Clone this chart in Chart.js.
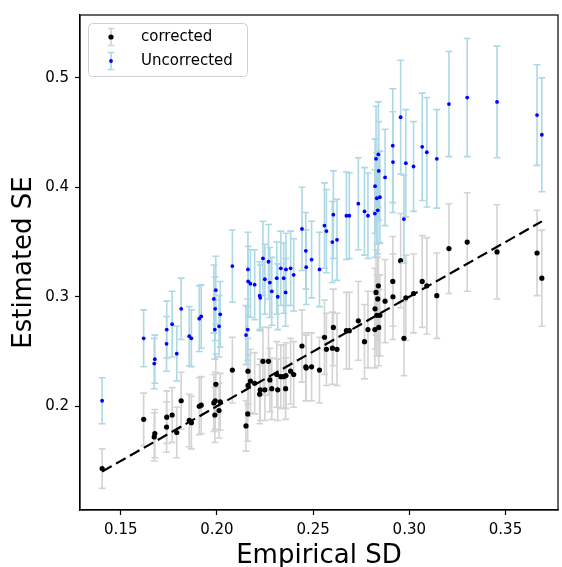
<!DOCTYPE html>
<html>
<head>
<meta charset="utf-8">
<script src="https://cdn.jsdelivr.net/npm/chart.js@4/dist/chart.umd.min.js"></script>
<style>
  html, body { margin: 0; padding: 0; background: #fff; }
  #wrap { width: 562px; height: 567px; position: relative; }
</style>
</head>
<body>
<div id="wrap"><canvas id="chart"></canvas></div>
<script>
// empirical SD of each estimate (x)
const empiricalSD = [
  0.1403, 0.1619, 0.1677, 0.1674, 0.1739, 0.1738, 0.1767, 0.1791, 0.1814, 0.1856,
  0.1867, 0.1908, 0.1918, 0.1984, 0.1994, 0.1991, 0.1989, 0.2017, 0.2011, 0.2080,
  0.2161, 0.2162, 0.2174, 0.2196, 0.2151, 0.2160, 0.2222, 0.2225, 0.2239, 0.2249,
  0.2268, 0.2275, 0.2285, 0.2311, 0.2316, 0.2332, 0.2347, 0.2359, 0.2357, 0.2383,
  0.2399, 0.2442, 0.2462, 0.2464, 0.2492, 0.2533, 0.2559, 0.2569, 0.2605, 0.2600,
  0.2624, 0.2673, 0.2688, 0.2735, 0.2767, 0.2785, 0.2821, 0.2822, 0.2827, 0.2831,
  0.2836, 0.2839, 0.2841, 0.2847, 0.2874, 0.2914, 0.2915, 0.2955, 0.2982, 0.2972,
  0.3022, 0.3067, 0.3091, 0.3143, 0.3206, 0.3301, 0.3456, 0.3664, 0.3689
];

// estimated SE, uncorrected
const uncorrectedSE = [
  0.205, 0.262, 0.243, 0.239, 0.270, 0.257, 0.275, 0.248, 0.289, 0.264,
  0.262, 0.280, 0.282, 0.298, 0.306, 0.289, 0.270, 0.284, 0.273, 0.328,
  0.325, 0.314, 0.312, 0.311, 0.265, 0.270, 0.301, 0.299, 0.335, 0.316,
  0.332, 0.313, 0.305, 0.317, 0.300, 0.326, 0.317, 0.325, 0.304, 0.326,
  0.320, 0.362, 0.342, 0.327, 0.334, 0.325, 0.365, 0.360, 0.375, 0.350,
  0.352, 0.374, 0.374, 0.385, 0.378, 0.374, 0.376, 0.401, 0.426, 0.390,
  0.379, 0.430, 0.415, 0.391, 0.409, 0.438, 0.423, 0.464, 0.422, 0.371,
  0.419, 0.437, 0.432, 0.426, 0.476, 0.482, 0.478, 0.466, 0.448
];
const uncorrectedErr = [
  0.021, 0.026, 0.022, 0.023, 0.026, 0.025, 0.030, 0.025, 0.028, 0.027,
  0.026, 0.030, 0.029, 0.031, 0.031, 0.029, 0.027, 0.030, 0.028, 0.033,
  0.034, 0.032, 0.031, 0.032, 0.027, 0.028, 0.031, 0.030, 0.034, 0.032,
  0.034, 0.032, 0.031, 0.033, 0.030, 0.034, 0.032, 0.033, 0.031, 0.034,
  0.033, 0.038, 0.035, 0.034, 0.035, 0.034, 0.039, 0.038, 0.040, 0.037,
  0.037, 0.040, 0.039, 0.042, 0.040, 0.039, 0.040, 0.043, 0.048, 0.042,
  0.040, 0.048, 0.045, 0.042, 0.044, 0.052, 0.046, 0.052, 0.049, 0.040,
  0.041, 0.049, 0.050, 0.045, 0.048, 0.054, 0.051, 0.046, 0.052
];

// estimated SE, corrected
const correctedSE = [
  0.143, 0.188, 0.175, 0.172, 0.190, 0.181, 0.192, 0.176, 0.205, 0.187,
  0.185, 0.200, 0.201, 0.203, 0.220, 0.205, 0.192, 0.204, 0.196, 0.233,
  0.232, 0.219, 0.223, 0.221, 0.182, 0.193, 0.211, 0.215, 0.241, 0.215,
  0.241, 0.224, 0.216, 0.229, 0.215, 0.227, 0.227, 0.228, 0.216, 0.232,
  0.229, 0.255, 0.236, 0.235, 0.236, 0.233, 0.263, 0.252, 0.272, 0.253,
  0.252, 0.269, 0.269, 0.278, 0.259, 0.270, 0.270, 0.289, 0.304, 0.283,
  0.298, 0.310, 0.272, 0.283, 0.296, 0.314, 0.300, 0.333, 0.299, 0.262,
  0.303, 0.314, 0.310, 0.301, 0.344, 0.350, 0.341, 0.340, 0.317
];
const correctedErr = [
  0.018, 0.024, 0.022, 0.022, 0.024, 0.023, 0.025, 0.023, 0.026, 0.024,
  0.024, 0.026, 0.026, 0.026, 0.028, 0.026, 0.025, 0.026, 0.025, 0.030,
  0.030, 0.028, 0.029, 0.028, 0.023, 0.025, 0.027, 0.028, 0.031, 0.028,
  0.031, 0.029, 0.028, 0.030, 0.028, 0.029, 0.029, 0.030, 0.028, 0.030,
  0.030, 0.033, 0.031, 0.030, 0.031, 0.030, 0.034, 0.033, 0.035, 0.033,
  0.033, 0.035, 0.035, 0.036, 0.034, 0.035, 0.035, 0.037, 0.039, 0.037,
  0.038, 0.040, 0.035, 0.037, 0.038, 0.041, 0.039, 0.043, 0.039, 0.034,
  0.036, 0.042, 0.044, 0.039, 0.041, 0.045, 0.043, 0.039, 0.044
];

const xTicks = [0.15, 0.20, 0.25, 0.30, 0.35];
const yTicks = [0.2, 0.3, 0.4, 0.5];
const seriesNames = ["corrected", "Uncorrected"];

const FONT = "'DejaVu Sans', sans-serif";
const BAR_GREY = "#d3d3d3";
const BAR_BLUE = "#add8e6";

const toPoints = (ys) => empiricalSD.map((x, i) => ({ x, y: ys[i] }));
const sdMin = Math.min(...empiricalSD);
const sdMax = Math.max(...empiricalSD);

// error bars, keyed by the dataset index they belong to
const errorBars = {
  0: { err: correctedErr, color: BAR_GREY },
  1: { err: uncorrectedErr, color: BAR_BLUE },
};

const errorBarPlugin = {
  id: "errorBars",
  beforeDatasetDraw(chart, args) {
    const bars = errorBars[args.index];
    if (!bars) return;
    const { ctx, chartArea, scales } = chart;
    const data = chart.data.datasets[args.index].data;
    ctx.save();
    ctx.beginPath();
    ctx.rect(chartArea.left, chartArea.top, chartArea.width, chartArea.height);
    ctx.clip();
    ctx.strokeStyle = bars.color;
    ctx.lineWidth = 1.6;
    data.forEach((p, i) => {
      const px = scales.x.getPixelForValue(p.x);
      const top = scales.y.getPixelForValue(p.y + bars.err[i]);
      const bot = scales.y.getPixelForValue(p.y - bars.err[i]);
      ctx.beginPath();
      ctx.moveTo(px, top);
      ctx.lineTo(px, bot);
      ctx.moveTo(px - 3.4, top);
      ctx.lineTo(px + 3.4, top);
      ctx.moveTo(px - 3.4, bot);
      ctx.lineTo(px + 3.4, bot);
      ctx.stroke();
    });
    ctx.restore();
  },
};

// top/right spines and the legend box
const framePlugin = {
  id: "frame",
  afterDraw(chart) {
    const { ctx, chartArea } = chart;
    ctx.save();
    ctx.strokeStyle = "#000";
    ctx.lineWidth = 1.2;
    ctx.strokeRect(chartArea.left, chartArea.top, chartArea.width, chartArea.height);

    const bx = chartArea.left + 8.5, by = chartArea.top + 8.5, bw = 159, bh = 53;
    ctx.beginPath();
    ctx.roundRect(bx, by, bw, bh, 4);
    ctx.fillStyle = "rgba(255,255,255,0.8)";
    ctx.fill();
    ctx.strokeStyle = "#d0d0d0";
    ctx.lineWidth = 1;
    ctx.stroke();

    const entries = [
      { label: seriesNames[0], bar: BAR_GREY, dot: "#000", r: 2.6 },
      { label: seriesNames[1], bar: BAR_BLUE, dot: "#0000ff", r: 1.9 },
    ];
    entries.forEach((e, i) => {
      const cx = chartArea.left + 31, cy = chartArea.top + 22 + i * 24;
      ctx.strokeStyle = e.bar;
      ctx.lineWidth = 1.6;
      ctx.beginPath();
      ctx.moveTo(cx, cy - 8.5); ctx.lineTo(cx, cy + 8.5);
      ctx.moveTo(cx - 3.4, cy - 8.5); ctx.lineTo(cx + 3.4, cy - 8.5);
      ctx.moveTo(cx - 3.4, cy + 8.5); ctx.lineTo(cx + 3.4, cy + 8.5);
      ctx.stroke();
      ctx.fillStyle = e.dot;
      ctx.beginPath();
      ctx.arc(cx, cy, e.r, 0, Math.PI * 2);
      ctx.fill();
      ctx.fillStyle = "#000";
      ctx.font = "15px " + FONT;
      ctx.textBaseline = "middle";
      ctx.textAlign = "left";
      ctx.fillText(e.label, chartArea.left + 61, cy);
    });
    ctx.restore();
  },
};

new Chart(document.getElementById("chart"), {
  type: "scatter",
  data: {
    datasets: [
      {
        label: seriesNames[0],
        data: toPoints(correctedSE),
        backgroundColor: "#000",
        borderWidth: 0,
        pointRadius: 2.6,
        order: 3,
      },
      {
        label: seriesNames[1],
        data: toPoints(uncorrectedSE),
        backgroundColor: "#0000ff",
        borderWidth: 0,
        pointRadius: 1.9,
        order: 2,
      },
      {
        type: "line",
        label: "identity",
        data: [{ x: sdMin, y: sdMin }, { x: sdMax, y: sdMax }],
        borderColor: "#000",
        borderWidth: 2.2,
        borderDash: [11, 5],
        pointRadius: 0,
        fill: false,
        order: 1,
      },
    ],
  },
  options: {
    responsive: true,
    maintainAspectRatio: false,
    animation: false,
    devicePixelRatio: 1,
    layout: { padding: { left: 0, right: 1, top: 14, bottom: 0 } },
    plugins: {
      legend: { display: false },
      tooltip: { enabled: false },
    },
    scales: {
      x: {
        type: "linear",
        min: 0.1288,
        max: 0.3773,
        afterBuildTicks: (scale) => { scale.ticks = xTicks.map((v) => ({ value: v })); },
        afterFit: (scale) => { scale.height = 57; },
        ticks: {
          callback: (v) => v.toFixed(2),
          color: "#000",
          font: { family: FONT, size: 15 },
          padding: 6,
          maxRotation: 0,
        },
        grid: { drawOnChartArea: false, tickLength: 5, tickColor: "#000", tickWidth: 1.2 },
        border: { color: "#000", width: 1.2 },
        title: {
          display: true,
          text: "Empirical SD",
          color: "#000",
          font: { family: FONT, size: 26, lineHeight: 0.8 },
          padding: { top: 0, bottom: 0 },
        },
      },
      y: {
        type: "linear",
        min: 0.1052,
        max: 0.5574,
        afterBuildTicks: (scale) => { scale.ticks = yTicks.map((v) => ({ value: v })); },
        afterFit: (scale) => { scale.width = 80; },
        ticks: {
          callback: (v) => v.toFixed(1),
          color: "#000",
          font: { family: FONT, size: 15 },
          padding: 6,
        },
        grid: { drawOnChartArea: false, tickLength: 5, tickColor: "#000", tickWidth: 1.2 },
        border: { color: "#000", width: 1.2 },
        title: {
          display: true,
          text: "Estimated SE",
          color: "#000",
          font: { family: FONT, size: 26, lineHeight: 0.8 },
          padding: { top: 14, bottom: 0 },
        },
      },
    },
  },
  plugins: [errorBarPlugin, framePlugin],
});
</script>
</body>
</html>
